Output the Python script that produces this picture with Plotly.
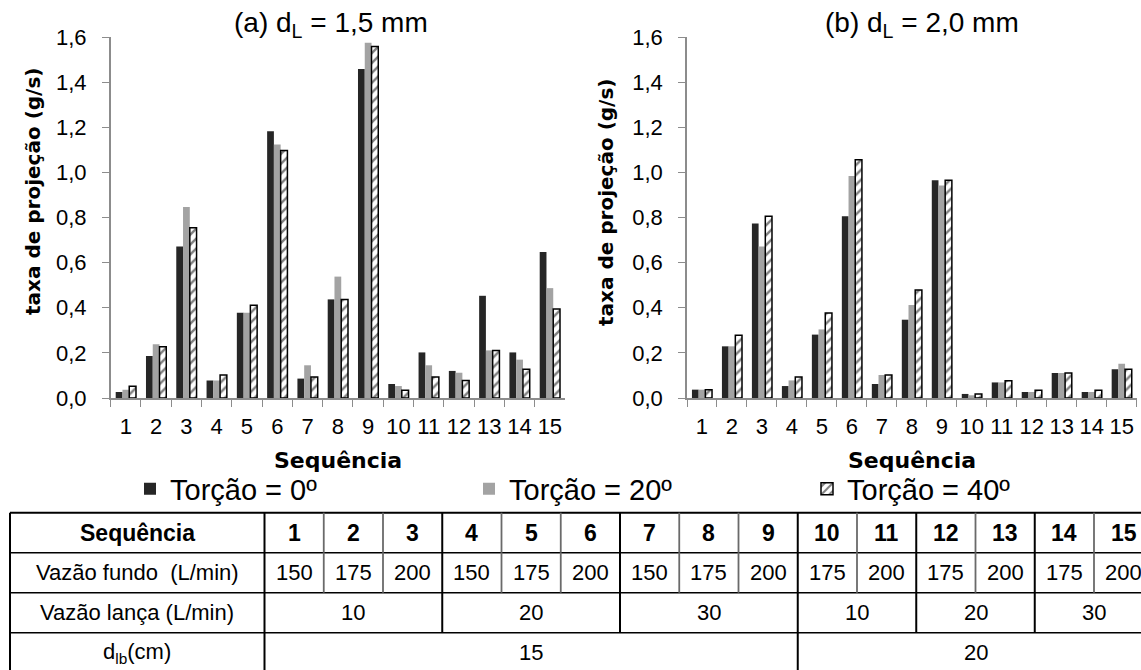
import plotly.graph_objects as go

W, H = 1141, 670
OFF = 0
FW, FH = W, H

# ---------------- data ----------------
sequencias = [str(i) for i in range(1, 16)]
torcao_labels = ["Torção = 0º", "Torção = 20º", "Torção = 40º"]

taxa_a_0 = [0.027, 0.186, 0.672, 0.078, 0.378, 1.182, 0.086, 0.437, 1.458, 0.062, 0.202, 0.120, 0.453, 0.202, 0.647]
taxa_a_20 = [0.037, 0.238, 0.846, 0.078, 0.378, 1.123, 0.145, 0.538, 1.575, 0.053, 0.145, 0.112, 0.211, 0.170, 0.487]
taxa_a_40 = [0.052, 0.227, 0.755, 0.102, 0.411, 1.097, 0.093, 0.437, 1.558, 0.034, 0.093, 0.078, 0.211, 0.127, 0.394]

taxa_b_0 = [0.037, 0.229, 0.773, 0.053, 0.281, 0.805, 0.062, 0.347, 0.965, 0.018, 0.069, 0.027, 0.111, 0.027, 0.127]
taxa_b_20 = [0.037, 0.229, 0.672, 0.078, 0.304, 0.984, 0.102, 0.412, 0.942, 0.012, 0.069, 0.027, 0.111, 0.027, 0.152]
taxa_b_40 = [0.037, 0.278, 0.805, 0.093, 0.377, 1.056, 0.102, 0.479, 0.965, 0.018, 0.077, 0.034, 0.111, 0.034, 0.127]

y_ticks = [0.0, 0.2, 0.4, 0.6, 0.8, 1.0, 1.2, 1.4, 1.6]

titulo_a = "(a) d<sub>L</sub> = 1,5 mm"
titulo_b = "(b) d<sub>L</sub> = 2,0 mm"
eixo_y = "taxa de projeção (g/s)"
eixo_x = "Sequência"

tab_row_labels = ["<b>Sequência</b>", "Vazão fundo\u00a0 (L/min)", "Vazão lança (L/min)", "d<sub>lb</sub>(cm)"]
vazao_fundo = [150, 175, 200, 150, 175, 200, 150, 175, 200, 175, 200, 175, 200, 175, 200]
vazao_lanca_vals = [10, 20, 30, 10, 20, 30]
vazao_lanca_spans = [3, 3, 3, 2, 2, 2]
dlb_vals = [15, 20]
dlb_spans = [9, 6]

# ---------------- styling ----------------
FONT = "Liberation Sans, Arial, sans-serif"
BOLD = "DejaVu Sans, Verdana, sans-serif"
C0, C20 = "#262626", "#a3a3a3"
AXC = "#8c8c8c"


def px_x(x):
    return (x - OFF) / FW


def px_y(y):
    return 1 - (y - OFF) / FH


fig = go.Figure()

legend_ids = ["legend", "legend2", "legend3"]
panels = [
    ("x", "y", [taxa_a_0, taxa_a_20, taxa_a_40], True),
    ("x2", "y2", [taxa_b_0, taxa_b_20, taxa_b_40], False),
]
for xa, ya, series, show in panels:
    s0, s20, s40 = series
    fig.add_trace(go.Bar(x=sequencias, y=s0, name=torcao_labels[0], xaxis=xa, yaxis=ya,
                         marker=dict(color=C0, line=dict(width=0)), showlegend=show,
                         legend=legend_ids[0]))
    fig.add_trace(go.Bar(x=sequencias, y=s20, name=torcao_labels[1], xaxis=xa, yaxis=ya,
                         marker=dict(color=C20, line=dict(width=0)), showlegend=show,
                         legend=legend_ids[1]))
    fig.add_trace(go.Bar(x=sequencias, y=s40, name=torcao_labels[2], xaxis=xa, yaxis=ya,
                         marker=dict(color="white",
                                     pattern=dict(shape="/", fgcolor="black", bgcolor="white",
                                                  size=7, solidity=0.35),
                                     line=dict(color="black", width=1.5)),
                         showlegend=show, legend=legend_ids[2]))

# invisible trace to create the table subplot
fig.add_trace(go.Scatter(x=[None], y=[None], xaxis="x3", yaxis="y3", showlegend=False,
                         hoverinfo="skip", mode="markers"))

xcommon = dict(type="category", tickson="boundaries", ticks="outside", ticklen=7,
               tickcolor=AXC, tickwidth=1.3, showline=True, linecolor=AXC, linewidth=1.5,
               showgrid=False, zeroline=False, range=[-0.5, 14.5], tickangle=0,
               tickfont=dict(family=FONT, size=22, color="black"), ticklabelstandoff=8,
               automargin=False)
ycommon = dict(range=[0, 1.6], tickvals=y_ticks, tickformat=".1f", ticks="outside", ticklen=7,
               tickcolor=AXC, tickwidth=1.3, showline=True, linecolor=AXC, linewidth=1.5,
               showgrid=False, zeroline=False, automargin=False,
               tickfont=dict(family=FONT, size=22, color="black"), ticklabelstandoff=11,
               domain=[px_y(398), px_y(37)])

# table axes (column units / row units)
COLW = 59.25
COL0 = 264.5
ROWH = 40
ROW0 = 512.7
TABLE_LEFT = (10 - COL0) / COLW

leg_common = dict(orientation="h", xanchor="left", yanchor="middle", y=px_y(489),
                  font=dict(family=FONT, size=29, color="black"), bgcolor="rgba(0,0,0,0)")

fig.update_layout(
    width=FW, height=FH, autosize=False,
    margin=dict(l=0, r=0, t=0, b=0, autoexpand=False),
    paper_bgcolor="white", plot_bgcolor="rgba(0,0,0,0)",
    separators=",.",
    barmode="group", bargap=0.33, bargroupgap=0,
    xaxis=dict(xcommon, domain=[px_x(110.7), px_x(565)], anchor="y"),
    yaxis=dict(ycommon, anchor="x"),
    xaxis2=dict(xcommon, domain=[px_x(687), px_x(1136.7)], anchor="y2"),
    yaxis2=dict(ycommon, anchor="x2"),
    xaxis3=dict(domain=[0, 1], range=[(OFF - COL0) / COLW, (OFF + FW - COL0) / COLW],
                visible=False, anchor="y3", fixedrange=True),
    yaxis3=dict(domain=[0, 1], range=[(OFF + FH - ROW0) / ROWH, (OFF - ROW0) / ROWH],
                visible=False, anchor="x3", fixedrange=True),
    legend=dict(leg_common, x=px_x(130)),
    legend2=dict(leg_common, x=px_x(469)),
    legend3=dict(leg_common, x=px_x(807)),
    showlegend=True,
)

annotations = []
# panel titles
annotations.append(dict(text=titulo_a, x=px_x(331), y=px_y(25), xref="paper", yref="paper",
                        showarrow=False, font=dict(family=FONT, size=28, color="black"),
                        xanchor="center", yanchor="middle"))
annotations.append(dict(text=titulo_b, x=px_x(922), y=px_y(25), xref="paper", yref="paper",
                        showarrow=False, font=dict(family=FONT, size=28, color="black"),
                        xanchor="center", yanchor="middle"))
# y titles
for xc, yc in [(33, 192), (606, 203)]:
    annotations.append(dict(text="<b>" + eixo_y + "</b>", x=px_x(xc), y=px_y(yc), xref="paper",
                            yref="paper", showarrow=False, textangle=-90,
                            font=dict(family=BOLD, size=20, color="black"),
                            xanchor="center", yanchor="middle"))
# x titles
for xr in ["x domain", "x2 domain"]:
    annotations.append(dict(text="<b>" + eixo_x + "</b>", x=0.5, y=px_y(460), xref=xr,
                            yref="paper", showarrow=False,
                            font=dict(family=BOLD, size=22, color="black"),
                            xanchor="center", yanchor="middle"))

# ---------------- table ----------------
n = len(sequencias)


def span_edges(spans):
    e = [0]
    for s in spans:
        e.append(e[-1] + s)
    return e


lanca_edges = span_edges(vazao_lanca_spans)
dlb_edges = span_edges(dlb_spans)
row_edges = [list(range(n + 1)), list(range(n + 1)), lanca_edges, dlb_edges]
major = set(lanca_edges) | set(dlb_edges)

shapes = []
# horizontal lines
for r in range(0, 5):
    shapes.append(dict(type="line", xref="x3", yref="y3", x0=TABLE_LEFT, x1=n, y0=r, y1=r,
                       line=dict(color="black", width=2 if r == 0 else 1.6)))
# left border and first-column separator
for xv in [TABLE_LEFT, 0]:
    shapes.append(dict(type="line", xref="x3", yref="y3", x0=xv, x1=xv, y0=0, y1=4,
                       line=dict(color="black", width=2)))
# inner vertical lines
for r, edges in enumerate(row_edges):
    for e in edges[1:-1]:
        is_major = e in major
        shapes.append(dict(type="line", xref="x3", yref="y3", x0=e, x1=e, y0=r, y1=r + 1,
                           line=dict(color="black" if is_major else "#6a6a6a",
                                     width=2 if is_major else 1.8)))

# row labels
for r, lab in enumerate(tab_row_labels):
    fnt = dict(family=FONT, size=23 if r == 0 else 22, color="black")
    annotations.append(dict(text=lab, x=TABLE_LEFT / 2, y=r + 0.5, xref="x3", yref="y3",
                            showarrow=False, font=fnt, xanchor="center", yanchor="middle"))
# header numbers and vazão fundo
for i, s in enumerate(sequencias):
    annotations.append(dict(text="<b>" + s + "</b>", x=i + 0.5, y=0.5, xref="x3", yref="y3",
                            showarrow=False, font=dict(family=FONT, size=23, color="black"),
                            xanchor="center", yanchor="middle"))
    annotations.append(dict(text=str(vazao_fundo[i]), x=i + 0.5, y=1.5, xref="x3", yref="y3",
                            showarrow=False, font=dict(family=FONT, size=22, color="black"),
                            xanchor="center", yanchor="middle"))
# merged rows
for r, vals, edges in [(2, vazao_lanca_vals, lanca_edges), (3, dlb_vals, dlb_edges)]:
    for k, v in enumerate(vals):
        annotations.append(dict(text=str(v), x=(edges[k] + edges[k + 1]) / 2, y=r + 0.5,
                                xref="x3", yref="y3", showarrow=False,
                                font=dict(family=FONT, size=22, color="black"),
                                xanchor="center", yanchor="middle"))

fig.update_layout(annotations=annotations, shapes=shapes)
fig.write_html("out.html", config={"displayModeBar": False},
               post_script="document.body.style.margin='0';document.body.style.overflow='hidden';")
